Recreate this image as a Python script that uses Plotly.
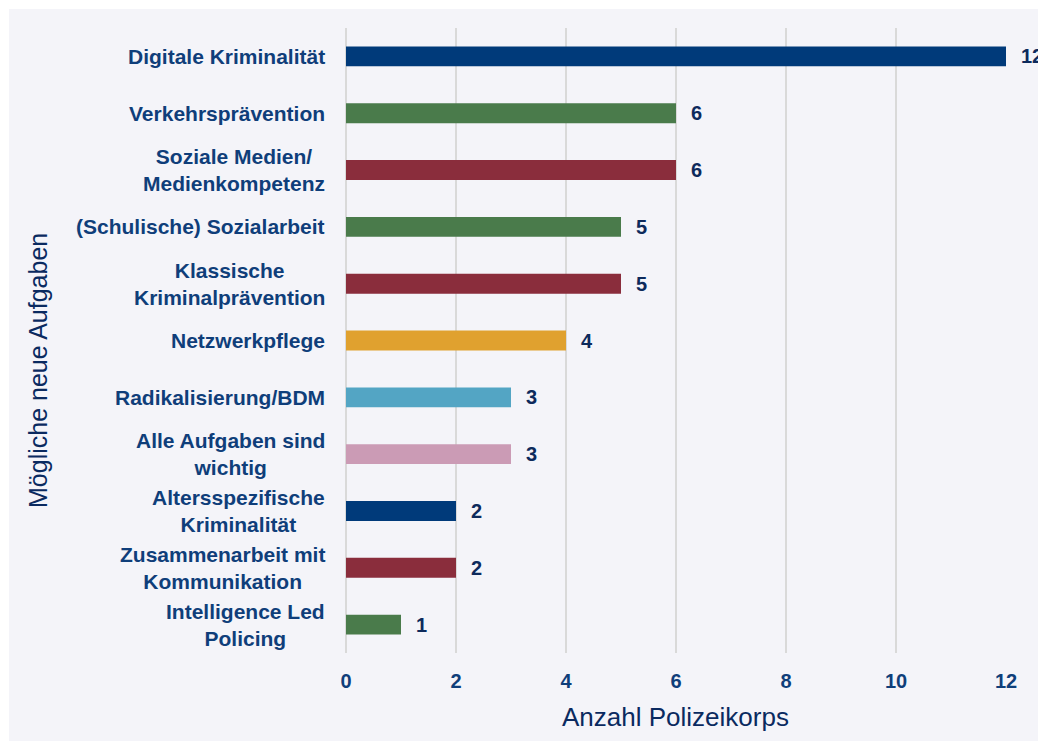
import plotly.graph_objects as go

categories = [
    "Digitale Kriminalität",
    "Verkehrsprävention",
    "Soziale Medien/<br>Medienkompetenz",
    "(Schulische) Sozialarbeit",
    "Klassische<br>Kriminalprävention",
    "Netzwerkpflege",
    "Radikalisierung/BDM",
    "Alle Aufgaben sind<br>wichtig",
    "Altersspezifische<br>Kriminalität",
    "Zusammenarbeit mit<br>Kommunikation",
    "Intelligence Led<br>Policing",
]
values = [12, 6, 6, 5, 5, 4, 3, 3, 2, 2, 1]
bar_colors = ["#003a7a", "#4a7b4b", "#8a2d3c", "#4a7b4b", "#8a2d3c", "#e0a12f",
              "#53a5c4", "#cb9bb5", "#003a7a", "#8a2d3c", "#4a7b4b"]
x_ticks = [0, 2, 4, 6, 8, 10, 12]
x_title = "Anzahl Polizeikorps"
y_title = "Mögliche neue Aufgaben"

W, H = 1038, 744
L, T = 346, 28
pw, ph = 660, 625
R, B = W - L - pw, H - T - ph

def px_x(p):
    return (p - L) / pw

def px_y(p):
    return (T + ph - p) / ph

fig = go.Figure()
fig.add_trace(go.Bar(
    y=categories, x=values, orientation="h",
    marker=dict(color=bar_colors, line=dict(width=0)),
    width=0.35, hoverinfo="x+y",
))

font_fam = "Liberation Sans, Arial, sans-serif"
annotations = []
for c, v in zip(categories, values):
    annotations.append(dict(
        x=0, y=c, xref="x", yref="y", text="<b>%s</b>" % c, showarrow=False,
        xanchor="right", yanchor="middle", align="center", xshift=-19,
        font=dict(family=font_fam, size=21, color="#0f3e7a")))
    annotations.append(dict(
        x=v, y=c, xref="x", yref="y", text="<b>%d</b>" % v, showarrow=False,
        xanchor="left", yanchor="middle", xshift=13,
        font=dict(family=font_fam, size=20, color="#0d2a5c")))
annotations.append(dict(
    x=px_x(675), y=px_y(717), xref="paper", yref="paper", text=x_title, showarrow=False,
    xanchor="center", yanchor="middle",
    font=dict(family=font_fam, size=26, color="#0a2a60")))
annotations.append(dict(
    x=px_x(38), y=px_y(371), xref="paper", yref="paper", text=y_title, showarrow=False,
    xanchor="center", yanchor="middle", textangle=-90,
    font=dict(family=font_fam, size=25, color="#0a2a60")))

fig.update_layout(
    width=W, height=H,
    margin=dict(l=L, r=R, t=T, b=B, autoexpand=False),
    paper_bgcolor="white", plot_bgcolor="rgba(0,0,0,0)",
    showlegend=False,
    annotations=annotations,
    shapes=[dict(type="rect", xref="paper", yref="paper", layer="below",
                 x0=px_x(9), x1=px_x(1040), y0=px_y(741), y1=px_y(9),
                 fillcolor="#f4f4f9", line=dict(width=0))],
    xaxis=dict(range=[0, 12], tickvals=x_ticks, showgrid=True, gridcolor="#d9d9d9",
               gridwidth=2, zeroline=True, zerolinecolor="#d9d9d9", zerolinewidth=2,
               showline=False, ticks="", ticklabelstandoff=14,
               tickfont=dict(family=font_fam, size=20, color="#0f3e7a", weight="bold"),
               fixedrange=True),
    yaxis=dict(type="category", categoryorder="array", categoryarray=categories,
               range=[len(categories) - 0.5, -0.5], showticklabels=False,
               showgrid=False, zeroline=False, showline=False, ticks="", fixedrange=True),
)

fig.write_html("out.html", config={"displayModeBar": False},
               post_script="document.body.style.margin='0';document.body.style.overflow='hidden';")
